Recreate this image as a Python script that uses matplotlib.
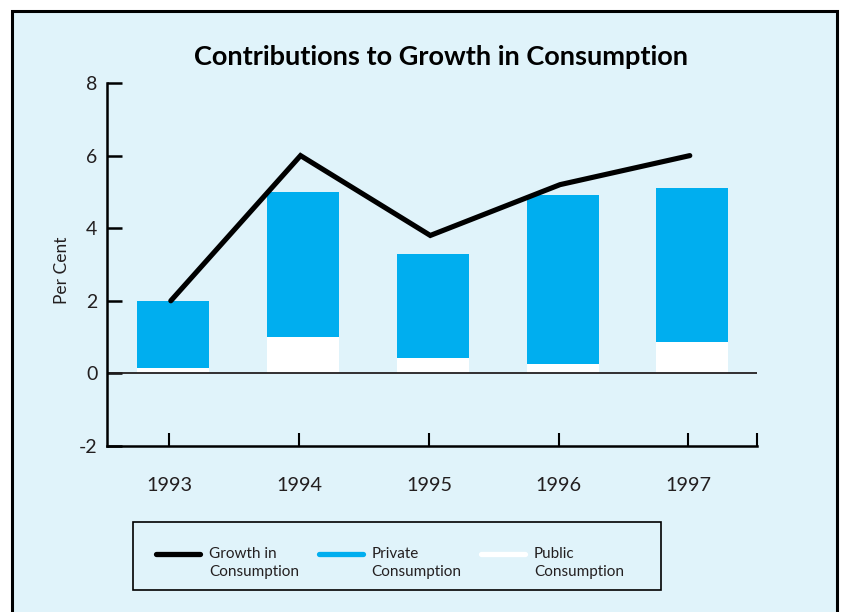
import matplotlib
matplotlib.use('Agg')
import matplotlib.pyplot as plt
from matplotlib.patches import Rectangle
from matplotlib.lines import Line2D
from matplotlib.legend_handler import HandlerLine2D

# ---- data ----
years = ['1993', '1994', '1995', '1996', '1997']
public = [0.15, 1.0, 0.43, 0.25, 0.86]
private = [1.85, 4.0, 2.87, 4.67, 4.24]
growth = [2.0, 6.0, 3.8, 5.2, 6.0]
yticks = [-2, 0, 2, 4, 6, 8]
legend_labels = ['Growth in\nConsumption', 'Private\nConsumption', 'Public\nConsumption']

BG = '#E0F3FA'
BLUE = '#00AEEF'
TXT = '#231F20'

plt.rcParams['font.family'] = ['Lato', 'DejaVu Sans']

W, H = 842, 612
fig = plt.figure(figsize=(W / 100, H / 100), dpi=100)
fig.patch.set_facecolor('white')

# framed light-blue panel
panel = Rectangle((11.5 / W, -10 / H), 825 / W, (H - 10.5 + 10) / H,
                  transform=fig.transFigure, facecolor=BG, edgecolor='black',
                  linewidth=2.2, zorder=-10)
fig.patches.append(panel)

ax = fig.add_axes([107 / W, 1 - 446 / H, 650 / W, 363 / H])
ax.set_facecolor('none')
ax.set_zorder(5)

x = list(range(len(years)))
bar_x = [i + 0.03 for i in x]
bw = 0.555
ax.bar(bar_x, public, width=bw, color='white', zorder=2, linewidth=0)
ax.bar(bar_x, private, width=bw, bottom=public, color=BLUE, zorder=2, linewidth=0)
ax.axhline(0, color=TXT, lw=1.3, zorder=2.5)
ax.plot([i + 0.01 for i in x], growth, color='black', lw=3.7,
        solid_capstyle='round', solid_joinstyle='miter', zorder=3)

xmin, xmax = -0.4817, 4.528
ax.set_xlim(xmin, xmax)
ax.set_ylim(-2, 8)

ax.set_yticks(yticks)
ax.set_yticklabels([str(v) for v in yticks])
ax.set_xticks(x + [xmax])
ax.set_xticklabels(years + [''])

for s in ['top', 'right']:
    ax.spines[s].set_visible(False)
for s in ['left', 'bottom']:
    ax.spines[s].set_linewidth(1.8)
    ax.spines[s].set_color('black')

ax.tick_params(axis='y', direction='in', length=11, width=1.8, pad=7,
               labelsize=14, labelcolor=TXT)
ax.tick_params(axis='x', direction='in', length=9.5, width=1.5, pad=22,
               labelsize=14.3, labelcolor=TXT)

fig.text(441 / W, 1 - 57 / H, 'Contributions to Growth in Consumption',
         ha='center', va='center', fontsize=19.5, fontweight='bold', color='black')
fig.text(62 / W, 1 - 270 / H, 'Per Cent', rotation=90, ha='center',
         va='center', fontsize=12.5, color=TXT)


class UpHandler(HandlerLine2D):
    def create_artists(self, legend, orig_handle, xdescent, ydescent, width,
                       height, fontsize, trans):
        arts = super().create_artists(legend, orig_handle, xdescent, ydescent,
                                      width, height, fontsize, trans)
        for a in arts:
            yd = a.get_ydata()
            a.set_ydata([v + 6.8 for v in yd])
        return arts


# legend
handles = [Line2D([], [], color='black', lw=3.8, solid_capstyle='round'),
           Line2D([], [], color=BLUE, lw=3.8, solid_capstyle='round'),
           Line2D([], [], color='white', lw=3.8, solid_capstyle='round')]
fs = 11
pxfs = fs * 100 / 72
leg = fig.legend(handles, legend_labels, loc='center left',
                 bbox_to_anchor=(156 / W, 1 - 563 / H), ncol=3, frameon=False,
                 fontsize=fs, handlelength=44 / pxfs, handletextpad=9 / pxfs,
                 columnspacing=19.5 / pxfs, borderpad=0, borderaxespad=0,
                 labelspacing=0, handler_map={Line2D: UpHandler()})
for t in leg.get_texts():
    t.set_color(TXT)
    t.set_linespacing(1.45)
box = Rectangle((133 / W, 1 - 590 / H), 528 / W, 68 / H,
                transform=fig.transFigure, facecolor='none', edgecolor='black',
                linewidth=1.2, zorder=1)
fig.patches.append(box)

fig.savefig('out.png', dpi=100, facecolor='white')
